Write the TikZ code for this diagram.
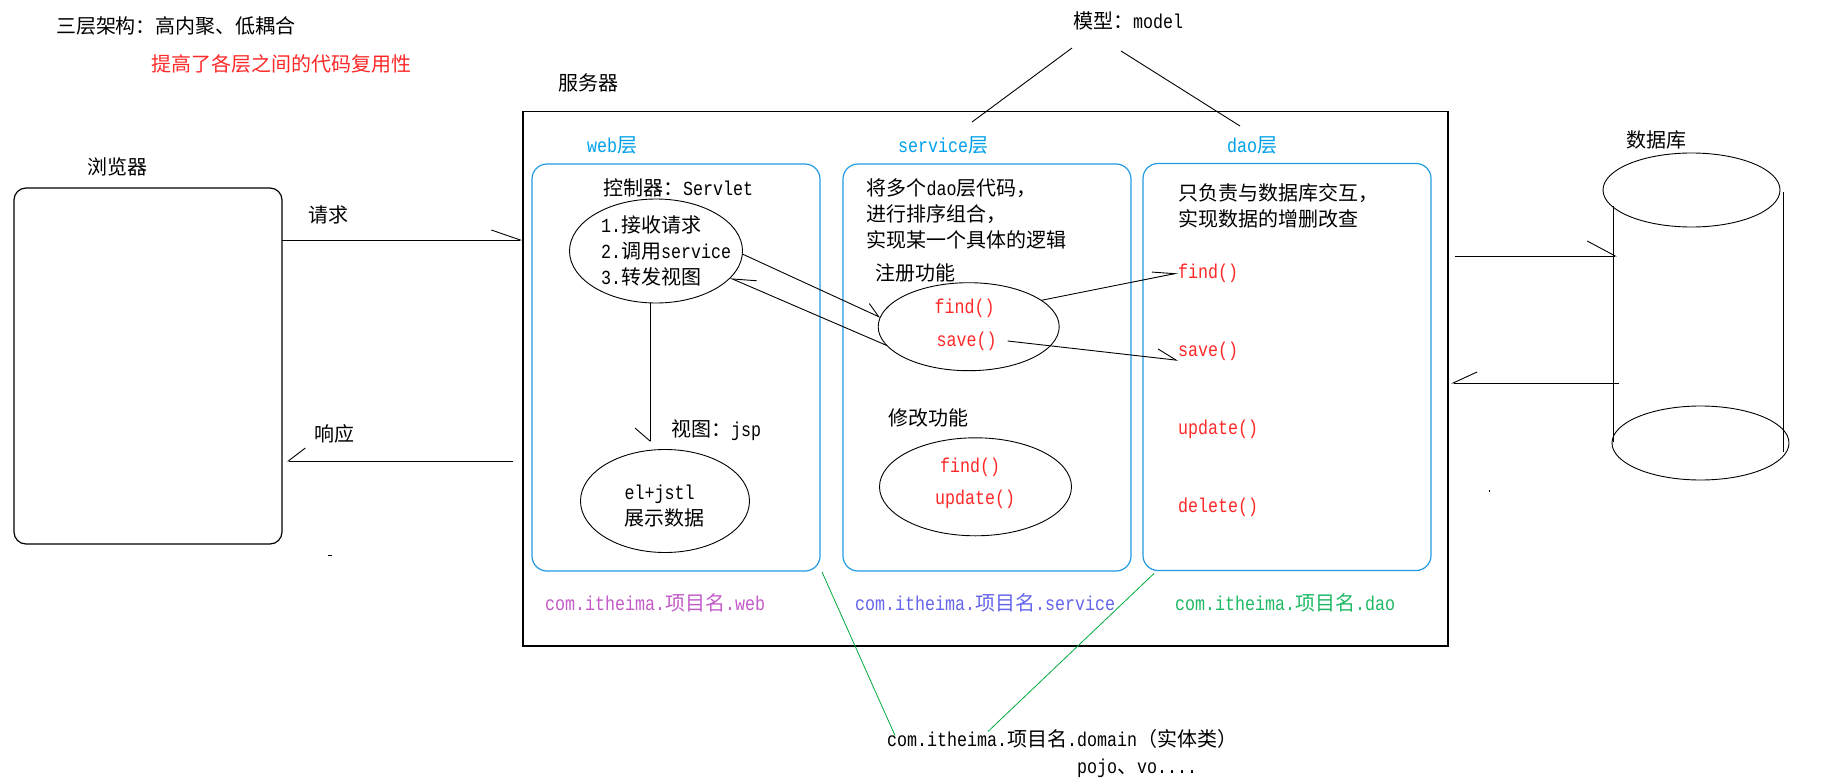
\documentclass[tikz,border=0pt]{standalone}
\usepackage{fontspec}
\setmainfont{Liberation Mono}[FakeStretch=0.8333]
\newfontfamily\cjk{Noto Sans CJK SC}
\newcommand\zh[1]{{\cjk #1}}
\usetikzlibrary{shapes.geometric,arrows.meta}
\definecolor{layerblue}{RGB}{0,160,233}
\definecolor{boxblue}{RGB}{30,155,225}
\definecolor{codered}{RGB}{255,40,40}
\definecolor{pkgweb}{RGB}{195,90,200}
\definecolor{pkgsvc}{RGB}{100,100,235}
\definecolor{pkgdao}{RGB}{30,185,100}
\definecolor{linkgreen}{RGB}{0,170,60}
\begin{document}
\begin{tikzpicture}[x=1pt,y=-1pt,
  every node/.style={font=\fontsize{20}{26}\selectfont, inner sep=0pt, outer sep=0pt},
  lbl/.style={anchor=west},
  multi/.style={anchor=west, align=left},
  code/.style={anchor=west, text=codered},
  layer/.style={anchor=west, text=layerblue},
  layerbox/.style={draw=boxblue, line width=1.2pt, rounded corners=15pt, minimum width=288pt, minimum height=407pt},
  oval/.style={draw, ellipse, line width=0.9pt},
  conn/.style={line width=0.9pt},
  green link/.style={draw=linkgreen, line width=0.8pt},
]
\useasboundingbox (0,0) rectangle (1824,784);

% headings
\node[lbl] (title) at (56,26) {\zh{三层架构：高内聚、低耦合}};
\node[lbl, text=codered] (subtitle) at (151,64) {\zh{提高了各层之间的代码复用性}};
\node[lbl] (serverlbl) at (558,83) {\zh{服务器}};
\node[lbl] (model) at (1073,21) {\zh{模型：}model};

% browser
\node[lbl] (browserlbl) at (87,167) {\zh{浏览器}};
\node[draw, line width=1.2pt, rounded corners=12pt, minimum width=268pt, minimum height=356pt] (browser) at (148,366) {};
\node[lbl] (reqlbl) at (308,215) {\zh{请求}};
\node[lbl] (resplbl) at (314,434) {\zh{响应}};

% server
\node[draw, line width=1.4pt, minimum width=925pt, minimum height=534.5pt] (server) at (985.5,378.75) {};
\node[layer] (weblbl) at (587,145) {web\zh{层}};
\node[layer] (svclbl) at (898,145) {service\zh{层}};
\node[layer] (daolbl) at (1227,145) {dao\zh{层}};
\node[layerbox] (webbox) at (676,367.5) {};
\node[layerbox] (svcbox) at (987,367.5) {};
\node[layerbox] (daobox) at (1287,367) {};

% web layer
\node[lbl] (ctrl) at (603,188) {\zh{控制器：}Servlet};
\node[oval, minimum width=173pt, minimum height=104pt] (e1) at (656,251) {};
\node[multi] (steps) at (601,251) {1.\zh{接收请求}\\2.\zh{调用}service\\3.\zh{转发视图}};
\node[lbl] (jsp) at (671,430) {\zh{视图：}jsp};
\node[oval, minimum width=169pt, minimum height=103pt] (e2) at (665,501) {};
\node[multi] (view) at (624.5,506.5) {el+jstl\\\zh{展示数据}};

% service layer
\node[multi] (svctext) at (866.5,214) {\zh{将多个}dao\zh{层代码，}\\\zh{进行排序组合，}\\\zh{实现某一个具体的逻辑}};
\node[lbl] (reg) at (875,273) {\zh{注册功能}};
\node[oval, minimum width=181pt, minimum height=88pt] (e3) at (968.7,326.7) {};
\node[code] (sfind1) at (934.7,308) {find()};
\node[code] (ssave) at (936.7,341) {save()};
\node[lbl] (mod) at (888,418) {\zh{修改功能}};
\node[oval, minimum width=192pt, minimum height=98pt] (e4) at (975.5,486.8) {};
\node[code] (sfind2) at (940,467) {find()};
\node[code] (supdate) at (935,499) {update()};

% dao layer
\node[multi] (daotext) at (1178,206) {\zh{只负责与数据库交互，}\\\zh{实现数据的增删改查}};
\node[code] (dfind) at (1178,273) {find()};
\node[code] (dsave) at (1178,351) {save()};
\node[code] (dupdate) at (1178,429) {update()};
\node[code] (ddelete) at (1178,507) {delete()};

% packages
\node[lbl, text=pkgweb] (pkgweb) at (545,603) {com.itheima.\zh{项目名}.web};
\node[lbl, text=pkgsvc] (pkgsvc) at (855,603) {com.itheima.\zh{项目名}.service};
\node[lbl, text=pkgdao] (pkgdao) at (1175,603) {com.itheima.\zh{项目名}.dao};
\node[lbl] (domain) at (887,739) {com.itheima.\zh{项目名}.domain\zh{（实体类）}};
\node[lbl] (pojo) at (1077,768) {pojo\zh{、}vo....};

% database
\node[lbl] (dblbl) at (1626,140) {\zh{数据库}};
\node[oval, minimum width=177pt, minimum height=74pt] (dbtop) at (1691.5,190) {};
\node[oval, minimum width=177pt, minimum height=74pt] (dbbot) at (1700.5,443) {};
\coordinate (dbl1) at (1613,206);
\coordinate (dbl2) at (1613,442);
\coordinate (dbr1) at (1783,192);
\coordinate (dbr2) at (1783,452);
\draw[conn] (dbl1) -- (dbl2);
\draw[conn] (dbr1) -- (dbr2);

% model lines
\coordinate (m1a) at (1072,48);
\coordinate (m1b) at (972,122);
\coordinate (m2a) at (1121,51);
\coordinate (m2b) at (1240,126);
\draw[conn] (m1a) -- (m1b);
\draw[conn] (m2a) -- (m2b);

% request / response
\draw[conn, -{Straight Barb[harpoon, length=29pt, width=20pt]}] (browser.east |- 0,240) -- (server.west |- 0,240);
\coordinate (respstart) at (513,461);
\coordinate (respend) at (287,461);
\draw[conn, -{Straight Barb[harpoon, swap, length=17pt, width=26pt]}] (respstart) -- (respend);

% web internal
\coordinate (vend) at (650,442);
\draw[conn, -{Straight Barb[harpoon, swap, length=13pt, width=30pt]}] (e1.south -| vend) -- (vend);
\draw[conn, -{Straight Barb[harpoon, length=14pt, width=16pt]}] (e1.-2) -- (e3.174);
\draw[conn, -{Straight Barb[harpoon, swap, length=23pt, width=16pt]}] (e3.193) -- (e1.-20);

% service -> dao
\draw[conn, -{Straight Barb[harpoon, length=22pt, width=12pt]}] (e3.20) -- (dfind.west);
\draw[conn, -{Straight Barb[harpoon, length=19pt, width=18pt]}] ([xshift=11pt]ssave.east) -- (dsave.south west);

% server <-> database
\coordinate (todb) at (1617,256);
\coordinate (fromdb) at (1619,383);
\draw[conn, -{Straight Barb[harpoon, length=28pt, width=30pt]}] (server.east |- todb) ++(7,0) -- (todb);
\draw[conn, -{Straight Barb[harpoon, swap, length=24pt, width=22pt]}] (fromdb) -- ([xshift=3pt]server.east |- fromdb);

% domain links
\draw[green link] ([xshift=2pt,yshift=-1pt]webbox.south east) -- ([xshift=8pt,yshift=-6pt]domain.north west);
\draw[green link] ([xshift=11pt,yshift=-3pt]daobox.south west) -- ([xshift=101pt,yshift=-2pt]domain.north west);

% stray marks
\coordinate (s1a) at (328,555);
\coordinate (s1b) at (332,555);
\draw[line width=0.8pt] (s1a) -- (s1b);
\coordinate (s2a) at (1489,490);
\coordinate (s2b) at (1489,492);
\draw[line width=0.8pt] (s2a) -- (s2b);
\end{tikzpicture}
\end{document}
